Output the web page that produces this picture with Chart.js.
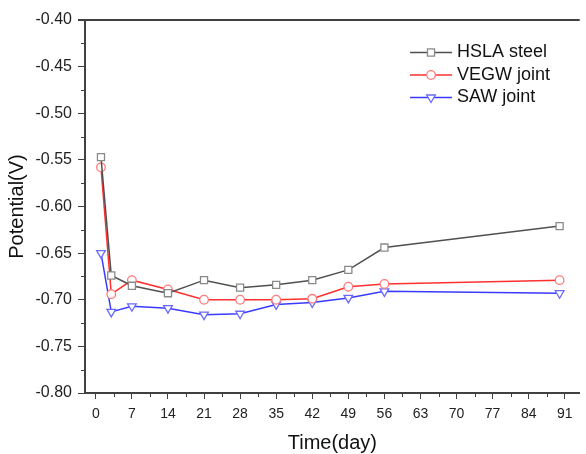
<!DOCTYPE html>
<html><head><meta charset="utf-8">
<script src="https://cdn.jsdelivr.net/npm/chart.js@4"></script>
<style>html,body{margin:0;padding:0;background:#fff}#wrap{width:586px;height:454px}</style>
</head><body><div id="wrap"><canvas id="c" width="586" height="454"></canvas></div>
<script>
const days = [1, 3, 7, 14, 21, 28, 35, 42, 49, 56, 90];
const hslaSteel = [-0.547, -0.674, -0.685, -0.693, -0.679, -0.687, -0.684, -0.679, -0.668, -0.644, -0.621];
const vegwJoint = [-0.558, -0.694, -0.679, -0.689, -0.700, -0.700, -0.700, -0.699, -0.686, -0.683, -0.679];
const sawJoint  = [-0.650, -0.713, -0.707, -0.709, -0.716, -0.715, -0.705, -0.703, -0.698, -0.691, -0.693];
const seriesNames = ['HSLA steel', 'VEGW joint', 'SAW joint'];
const xTickValues = [0, 7, 14, 21, 28, 35, 42, 49, 56, 63, 70, 77, 84, 91];
const yTickValues = [-0.80, -0.75, -0.70, -0.65, -0.60, -0.55, -0.50, -0.45, -0.40];
const xTitle = 'Time(day)';
const yTitle = 'Potential(V)';

const FONT = "'Liberation Sans', Arial, sans-serif";
const AXIS = '#404040';

function pts(vals) { return days.map((d, i) => ({x: d, y: vals[i]})); }

const decor = {
  id: 'decor',
  afterDraw(chart) {
    const {ctx, chartArea: a, scales: {x, y}} = chart;
    ctx.save();
    ctx.strokeStyle = AXIS;
    ctx.lineWidth = 1;
    // minor ticks x
    xTickValues.forEach(v => {
      const m = v + 3.5;
      if (m <= x.max) {
        const px = Math.round(x.getPixelForValue(m)) + 0.5;
        ctx.beginPath(); ctx.moveTo(px, a.bottom); ctx.lineTo(px, a.bottom + 4); ctx.stroke();
      }
    });
    // minor ticks y
    yTickValues.forEach(v => {
      const m = v + 0.025;
      if (m < y.max) {
        const py = Math.round(y.getPixelForValue(m)) + 0.5;
        ctx.beginPath(); ctx.moveTo(a.left, py); ctx.lineTo(a.left - 4, py); ctx.stroke();
      }
    });
    // top border
    ctx.lineWidth = 2;
    ctx.beginPath(); ctx.moveTo(a.left - 7, a.top); ctx.lineTo(a.right, a.top); ctx.stroke();
    // legend
    chart.data.datasets.forEach((ds, i) => {
      const yy = 52.5 + i * 22.5;
      ctx.strokeStyle = ds.borderColor;
      ctx.lineWidth = 1.5;
      ctx.beginPath(); ctx.moveTo(410, yy); ctx.lineTo(452, yy); ctx.stroke();
      ctx.strokeStyle = ds.pointBorderColor;
      ctx.fillStyle = '#ffffff';
      ctx.lineWidth = ds.pointBorderWidth;
      Chart.helpers.drawPoint(ctx, {pointStyle: ds.pointStyle, radius: ds.pointRadius, rotation: ds.pointRotation || 0, borderWidth: ds.pointBorderWidth}, 431, yy);
      ctx.fillStyle = '#111';
      ctx.font = '18px ' + FONT;
      ctx.textBaseline = 'middle';
      ctx.textAlign = 'left';
      ctx.fillText(ds.label, 457, yy);
    });
    ctx.restore();
  }
};

new Chart(document.getElementById('c'), {
  type: 'line',
  data: {
    datasets: [
      {label: seriesNames[0], data: pts(hslaSteel), borderColor: '#505050', borderWidth: 1.5,
       pointStyle: 'rect', pointRadius: 5, pointBorderColor: '#8a8a8a', pointBackgroundColor: '#fff', pointBorderWidth: 1.3},
      {label: seriesNames[1], data: pts(vegwJoint), borderColor: '#ff3030', borderWidth: 1.5,
       pointStyle: 'circle', pointRadius: 4.3, pointBorderColor: '#ff7a7a', pointBackgroundColor: '#fff', pointBorderWidth: 1.3},
      {label: seriesNames[2], data: pts(sawJoint), borderColor: '#3a3aff', borderWidth: 1.5,
       pointStyle: 'triangle', pointRotation: 180, pointRadius: 5, pointBorderColor: '#6a6aff', pointBackgroundColor: '#fff', pointBorderWidth: 1.3}
    ]
  },
  options: {
    responsive: false,
    animation: false,
    devicePixelRatio: 1,
    layout: {padding: {top: 20, right: 0, left: 0, bottom: 0}},
    plugins: {legend: {display: false}, tooltip: {enabled: false}},
    elements: {line: {tension: 0}},
    scales: {
      x: {
        type: 'linear', min: -2.1, max: 93.9,
        afterFit: s => { s.height = 61; },
        afterBuildTicks: s => { s.ticks = xTickValues.map(v => ({value: v})); },
        grid: {drawOnChartArea: false, drawTicks: true, tickLength: 6, tickColor: AXIS, tickWidth: 1},
        border: {color: AXIS, width: 2},
        ticks: {font: {family: FONT, size: 14}, color: '#222', padding: 7, maxRotation: 0, autoSkip: false,
                callback: v => String(v)},
        title: {display: true, text: xTitle, font: {family: FONT, size: 20, lineHeight: 1}, color: '#111', padding: {top: 0, bottom: 1}}
      },
      y: {
        type: 'linear', min: -0.80, max: -0.40,
        afterFit: s => { s.width = 85; },
        afterBuildTicks: s => { s.ticks = yTickValues.map(v => ({value: v})); },
        grid: {drawOnChartArea: false, drawTicks: true, tickLength: 7, tickColor: AXIS, tickWidth: 1},
        border: {color: AXIS, width: 2},
        ticks: {font: {family: FONT, size: 16}, color: '#222', padding: 6, autoSkip: false,
                callback: v => v.toFixed(2)},
        title: {display: true, text: yTitle, font: {family: FONT, size: 20}, color: '#111', padding: {top: 5, bottom: 0}}
      }
    }
  },
  plugins: [decor]
});
</script>
</body></html>
